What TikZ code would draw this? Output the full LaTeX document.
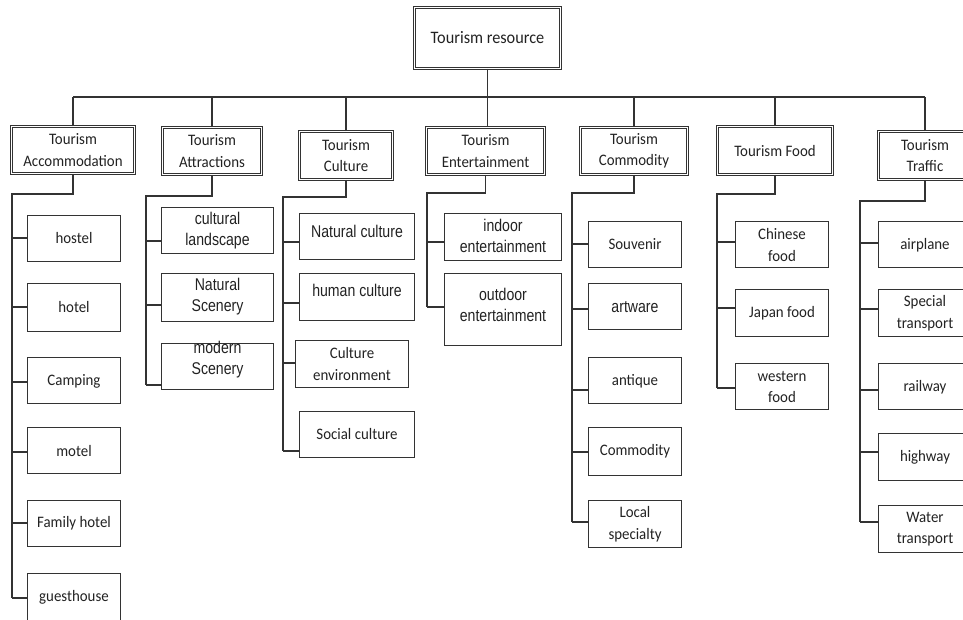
\documentclass[tikz,border=0pt]{standalone}
\usepackage{fontspec}
\newfontfamily\calfont{Carlito}[FakeStretch=0.93]
\newfontfamily\arfont{Liberation Sans}[FakeStretch=0.83]
\definecolor{linec}{HTML}{333333}
\definecolor{txtc}{HTML}{222222}
\newcommand\curspine{accS}
\newcommand\topb[6]{%
  \node[topbox, minimum width={(#4-#2-3)*1pt}, minimum height={(#5-#3-3)*1pt}] (#1) at ({(#2+#4)/2},{(#3+#5)/2}) {#6};}
\newcommand\leaf[9]{%
  \node[leafbox, minimum width={(#4-#2-1)*1pt}, minimum height={(#5-#3-1)*1pt}] (#1) at ({(#2+#4)/2},{(#3+#5)/2}) {};
  \node[#8] (#1-t) at ({(#2+#4)/2},#6) {#9};
  \draw[conn] (\curspine |- 0,#7) -- (#1.west |- 0,#7);}
\begin{document}
\begin{tikzpicture}[x=1pt,y=-1pt,
  topbox/.style={draw=linec, double, double distance=1.6pt, line width=0.8pt, inner sep=0, align=center, text=txtc, font=\calfont\fontsize{16}{21.5}\selectfont},
  leafbox/.style={draw=linec, line width=1pt, inner sep=0},
  ctext/.style={font=\calfont\fontsize{16}{21.5}\selectfont, align=center, inner sep=0, text=txtc},
  atext/.style={font=\arfont\fontsize{17}{21}\selectfont, align=center, inner sep=0, text=txtc},
  conn/.style={draw=linec, line width=1.1pt}]
\useasboundingbox (0,0) rectangle (963,619);
% top level
\topb{root}{413}{6}{562}{70}{\fontsize{17.5}{21}\selectfont Tourism resource}
\topb{acc}{10}{125}{136}{175}{Tourism\\Accommodation}
\topb{att}{161}{126}{263}{176}{Tourism\\Attractions}
\topb{cul}{298}{130}{394}{181}{Tourism\\Culture}
\topb{ent}{425}{126}{546}{176}{Tourism\\Entertainment}
\topb{com}{579}{126}{689}{176}{Tourism\\Commodity}
\topb{food}{716}{125}{834}{176}{Tourism Food}
\topb{trf}{877}{130}{973}{181}{Tourism\\Traffic}
\coordinate (bus) at (0,97);
\draw[conn] (root.south) -- (root.south |- ent.north);
\draw[conn] (acc.north |- bus) -- (trf.north |- bus);
\foreach \n in {acc,att,cul,com,food,trf} {\draw[conn] (\n.north) -- (\n.north |- bus);}
% spines
\coordinate (accS) at (12,194);  \coordinate (accE) at (12,598);
\coordinate (attS) at (146,196); \coordinate (attE) at (146,385);
\coordinate (culS) at (283,197); \coordinate (culE) at (283,451);
\coordinate (entS) at (427,193); \coordinate (entE) at (427,307);
\coordinate (comS) at (572,193); \coordinate (comE) at (572,522);
\coordinate (foodS) at (717,194); \coordinate (foodE) at (717,388);
\coordinate (trfS) at (860,201); \coordinate (trfE) at (860,522);
\foreach \n in {acc,att,cul,ent,com,food,trf} {\draw[conn] (\n.south) |- (\n S) -- (\n E);}
% accommodation
\renewcommand\curspine{accS}
\leaf{hostel}{27}{215}{121}{262}{238}{238}{ctext}{hostel}
\leaf{hotel}{27}{283}{121}{332}{307}{307}{ctext}{hotel}
\leaf{camping}{27}{357}{121}{404}{381}{382}{ctext}{Camping}
\leaf{motel}{27}{427}{121}{474}{451}{452}{ctext}{motel}
\leaf{family}{27}{500}{121}{547}{523}{523}{ctext}{Family hotel}
\leaf{guest}{27}{573}{121}{624}{597}{598}{ctext}{guesthouse}
% attractions
\renewcommand\curspine{attS}
\leaf{cland}{161}{207}{274}{254}{231}{241}{atext}{cultural\\landscape}
\leaf{nscen}{161}{273}{274}{322}{297}{305}{atext}{Natural\\Scenery}
\leaf{mscen}{161}{343}{274}{390}{360}{385}{atext}{modern\\Scenery}
% culture
\renewcommand\curspine{culS}
\leaf{ncult}{299}{213}{415}{260}{231}{242}{atext}{Natural culture}
\leaf{hcult}{299}{273}{415}{321}{290}{303}{atext}{human culture}
\leaf{cenv}{295}{340}{409}{388}{364}{363}{ctext}{Culture\\environment}
\leaf{scult}{299}{411}{415}{458}{434}{451}{ctext}{Social culture}
% entertainment
\renewcommand\curspine{entS}
\leaf{indoor}{444}{213}{562}{261}{236}{242}{atext}{indoor\\entertainment}
\leaf{outdoor}{444}{273}{562}{346}{305}{307}{atext}{outdoor\\entertainment}
% commodity
\renewcommand\curspine{comS}
\leaf{souv}{588}{221}{682}{268}{244}{244}{ctext}{Souvenir}
\leaf{artw}{588}{283}{682}{330}{307}{309}{atext}{artware}
\leaf{anti}{588}{357}{682}{404}{381}{390}{ctext}{antique}
\leaf{commo}{588}{427}{682}{476}{451}{452}{ctext}{Commodity}
\leaf{local}{588}{500}{682}{548}{524}{522}{ctext}{Local\\specialty}
% food
\renewcommand\curspine{foodS}
\leaf{chin}{735}{221}{829}{268}{245}{242}{ctext}{Chinese\\food}
\leaf{japan}{735}{289}{829}{337}{313}{308}{ctext}{Japan food}
\leaf{west}{735}{363}{829}{410}{387}{388}{ctext}{western\\food}
% traffic
\renewcommand\curspine{trfS}
\leaf{air}{878}{221}{972}{268}{245}{243}{ctext}{airplane}
\leaf{spec}{878}{289}{972}{337}{313}{309}{ctext}{Special\\transport}
\leaf{rail}{878}{363}{972}{410}{387}{390}{ctext}{railway}
\leaf{high}{878}{433}{972}{481}{457}{452}{ctext}{highway}
\leaf{water}{878}{505}{972}{553}{529}{522}{ctext}{Water\\transport}
\end{tikzpicture}
\end{document}
